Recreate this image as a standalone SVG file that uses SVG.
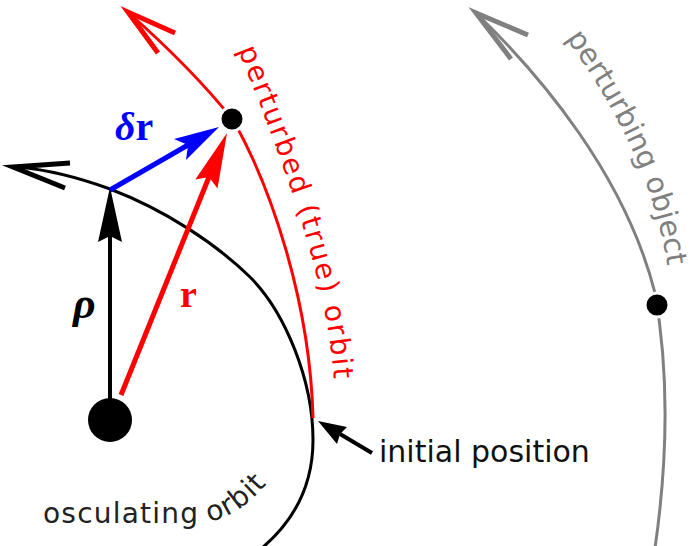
<svg xmlns="http://www.w3.org/2000/svg" width="696" height="546" viewBox="0 0 696 546">
<style>
.orb{fill:none;stroke-width:3}
.barb{fill:none;stroke-width:5;stroke-linejoin:miter;stroke-miterlimit:10;stroke-linecap:butt}
.lbl{font-family:"DejaVu Sans","Verdana",sans-serif}
.vec{font-family:"Liberation Serif","DejaVu Serif",serif;font-weight:bold}
</style>
<defs>
<path id="tpRed" d="M238,50 C262,110 334,280 334,395"/>
<path id="tpGray" d="M566,38 C606,95 668,190 671,310"/>
<path id="tpOsc" d="M43,523 H196 C226,523 258,503 290,452"/>
</defs>
<rect width="696" height="546" fill="#fff"/>
<g id="connectors">
  <!-- osculating orbit -->
  <path class="orb" stroke="#000" d="M18,167 C50,170 80,178 110,189 C165,210 215,243 250,277 C285,312 313,380 313,440 C313,485 295,520 262,548"/>
  <polyline class="barb" stroke="#000" points="70,163 13,167 65,188"/>
  <!-- perturbed orbit -->
  <path class="orb" stroke="#ff0000" d="M130,14 C165,45 205,85 233,120 C270,185 310,300 313,418"/>
  <polyline class="barb" stroke="#ff0000" points="175,33 128,12 158,53"/>
  <!-- perturbing object orbit -->
  <path class="orb" stroke="#808080" stroke-width="3.5" d="M478,15 C540,75 625,175 655,293 C665,350 672,430 655,548"/>
  <polyline class="barb" stroke="#808080" points="528,35 476,13 511,59"/>
  <!-- rho vector -->
  <line x1="110" y1="400" x2="110" y2="236" stroke="#000" stroke-width="4"/>
  <polygon points="110,187 122,242 110,236 98,242" fill="#000"/>
  <!-- r vector -->
  <line x1="121" y1="395" x2="209" y2="177" stroke="#ff0000" stroke-width="5"/>
  <polygon points="227,133 217.5,188.5 209,177 195.3,179.5" fill="#ff0000"/>
  <!-- delta r vector -->
  <line x1="110" y1="190" x2="188" y2="145" stroke="#0000ff" stroke-width="5"/>
  <polygon points="219,127 186,160 188,145 174,139" fill="#0000ff"/>
  <!-- initial position pointer -->
  <line x1="372" y1="453" x2="340" y2="434" stroke="#000" stroke-width="4"/>
  <polygon points="318,421 347,427 340,434 337,444" fill="#000"/>
</g>
<g id="central-body"><circle cx="110" cy="420" r="22" fill="#000"/></g>
<g id="satellite"><circle cx="232" cy="119" r="12" fill="#000" stroke="#fff" stroke-width="3"/></g>
<g id="perturbing-object"><circle cx="657" cy="305" r="12" fill="#000" stroke="#fff" stroke-width="3"/></g>
<g id="label-rho"><text class="vec" x="73" y="318" font-size="44" font-style="italic" fill="#000">ρ</text></g>
<g id="label-r"><text class="vec" x="180" y="307" font-size="38" fill="#ff0000">r</text></g>
<g id="label-dr"><text class="vec" x="115" y="140" font-size="40" fill="#0000ff"><tspan font-style="italic">δ</tspan>r</text></g>
<g id="label-perturbed"><text class="lbl" font-size="28" letter-spacing="2" fill="#ff0000"><textPath href="#tpRed">perturbed (true) orbit</textPath></text></g>
<g id="label-perturbing"><text class="lbl" font-size="29" fill="#808080"><textPath href="#tpGray">perturbing object</textPath></text></g>
<g id="label-initial"><text class="lbl" x="379" y="462" font-size="30" fill="#111">initial position</text></g>
<g id="label-osculating"><text class="lbl" font-size="28" letter-spacing="1.2" fill="#222"><textPath href="#tpOsc">osculating orbit</textPath></text></g>
</svg>
